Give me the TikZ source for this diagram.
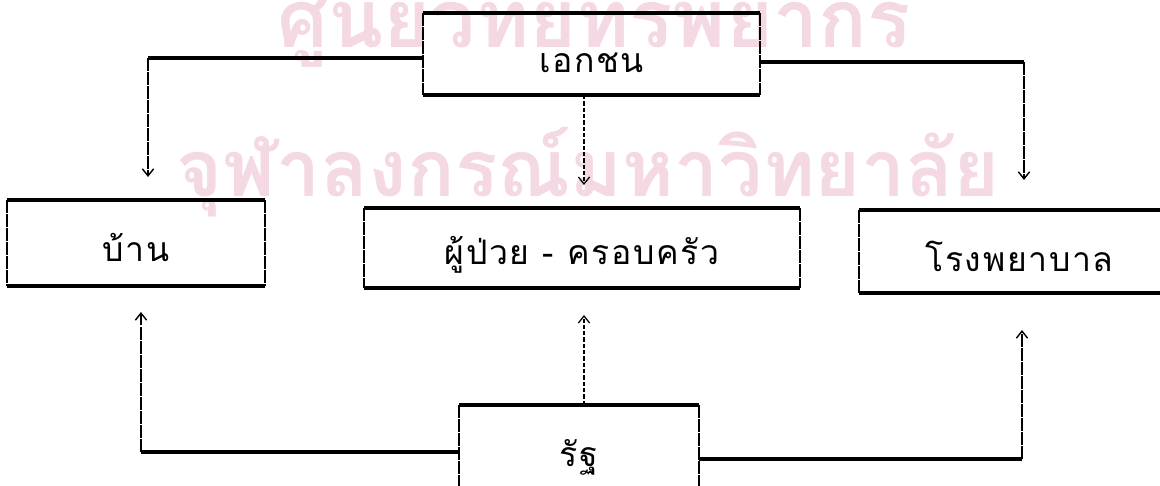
\documentclass[tikz,border=0pt]{standalone}
\usepackage{fontspec}
\newfontfamily\thaitxt[Script=Thai,LetterSpace=5]{Loma}
\newfontfamily\thaiwm[Script=Thai]{Loma}
\usetikzlibrary{arrows.meta}
\definecolor{wmpink}{RGB}{244,216,227}
\tikzset{
  wm/.style={inner sep=0pt, text=wmpink, font=\thaiwm\bfseries\fontsize{66}{70}\selectfont},
  box/.style={inner sep=0pt, outer sep=0pt, font=\thaitxt\fontsize{24}{26}\selectfont},
  hline/.style={line width=2.6pt},
  vline/.style={line width=1pt, dash pattern=on 9pt off 1pt},
  mline/.style={line width=0.9pt, dash pattern=on 3pt off 1.5pt},
  arr/.style={-{Straight Barb[length=5pt,width=8pt]}}
}
\newcommand\boxedges[1]{%
  \draw[hline] (#1.north west) -- (#1.north east);
  \draw[hline] (#1.south west) -- (#1.south east);
  \draw[vline] (#1.north west) -- (#1.south west);
  \draw[vline] (#1.north east) -- (#1.south east);}
\newcommand\lowered[2]{\raisebox{-#1}[\height][\depth]{#2}}
\begin{document}
\begin{tikzpicture}[x=0.025cm,y=-0.025cm]
\useasboundingbox (0,0) rectangle (1160,486);
\clip (0,0) rectangle (1160,486);
% watermark
\node[wm, anchor=base] (wm1) at (594,48) {\resizebox{15.825cm}{!}{ศูนย์วิทยทรัพยากร}};
\node[wm, anchor=base] (wm2) at (588,197) {\resizebox{20.575cm}{!}{จุฬาลงกรณ์มหาวิทยาลัย}};
% boxes
\node[box, minimum width=8.425cm, minimum height=2.05cm] (priv) at (591.5,54) {\lowered{0.22cm}{เอกชน}};
\node[box, minimum width=6.45cm, minimum height=2.15cm] (home) at (136,243) {\lowered{0.1cm}{บ้าน}};
\node[box, minimum width=10.9cm, minimum height=2.0cm] (pat) at (582,248) {\lowered{0.17cm}{ผู้ป่วย - ครอบครัว}};
\node[box, minimum width=8.025cm, minimum height=2.075cm] (hosp) at (1019.5,251.5) {\lowered{0.12cm}{โรงพยาบาล}};
\node[box, minimum width=6cm, minimum height=2.5cm] (state) at (579,455) {\lowered{0.05cm}{รัฐ}};
\boxedges{priv}
\boxedges{home}
\boxedges{pat}
\boxedges{hosp}
\boxedges{state}
% connectors from เอกชน
\coordinate (c1) at (148,58);
\coordinate (c2) at (1024,62);
\coordinate (m1) at (584,0);
\draw[hline] (priv.west |- c1) -- (c1);
\draw[vline,arr,shorten >=0.575cm] (c1) -- (c1 |- home.north);
\draw[hline] (priv.east |- c2) -- (c2);
\draw[vline,arr,shorten >=0.75cm] (c2) -- (c2 |- hosp.north);
\draw[mline,arr,shorten >=0.575cm] (priv.south -| m1) -- (pat.north -| m1);
% connectors from รัฐ
\coordinate (c3) at (141,452);
\coordinate (c4) at (1022,459);
\draw[hline] (state.west |- c3) -- (c3);
\draw[vline,arr,shorten >=0.65cm] (c3) -- (c3 |- home.south);
\draw[mline,arr,shorten >=0.675cm] (state.north -| m1) -- (pat.south -| m1);
\draw[hline] (state.east |- c4) -- (c4);
\draw[vline,arr,shorten >=0.925cm] (c4) -- (c4 |- hosp.south);
\end{tikzpicture}
\end{document}
